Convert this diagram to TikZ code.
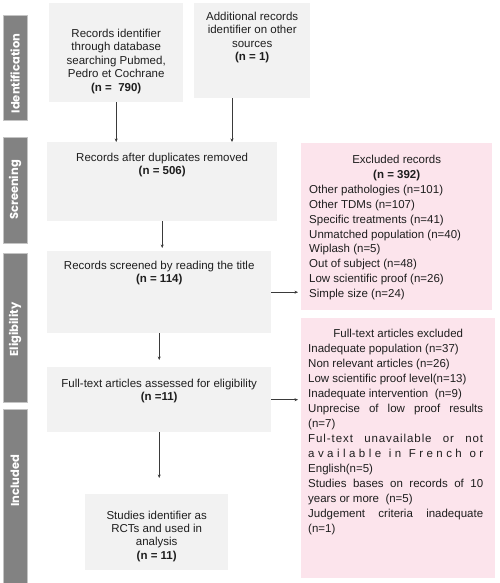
\documentclass[tikz,border=0pt]{standalone}
\usepackage{fontspec}
\setmainfont{Liberation Sans}
\newfontfamily\barfont{Poppins}
\usetikzlibrary{arrows.meta}
\definecolor{boxgray}{HTML}{F2F2F2}
\definecolor{boxpink}{HTML}{FCE4EC}
\definecolor{bargray}{HTML}{828282}
\definecolor{barline}{HTML}{C4C4C4}
\definecolor{ink}{HTML}{1E1E1E}
\definecolor{arrowc}{HTML}{3A3A3A}
\newcommand{\bx}[4]{\parbox[c][#2][t]{#1}{\vspace*{#3}\centering #4\par}}
\newcommand{\jl}[1]{\makebox[175pt][s]{#1}}
\tikzset{
  gbox/.style={fill=boxgray, inner sep=0pt, anchor=north west, text=ink, font=\fontsize{11.5}{13.4}\selectfont},
  pbox/.style={fill=boxpink, inner sep=0pt, anchor=north west, text=ink},
  sidebar/.style={fill=bargray, draw=barline, line width=0.5pt, rotate=90, inner sep=0pt,
    minimum height=24pt, text=white, font=\barfont\bfseries\fontsize{11.5}{12}\selectfont},
  arr/.style={draw=arrowc, line width=0.6pt, -{Stealth[length=3.5pt,width=3pt]}}
}
\begin{document}
\begin{tikzpicture}[x=1pt,y=-1pt]
\useasboundingbox (0,0) rectangle (500,583);
% side bars
\node[sidebar, minimum width=105pt] (sb1) at (15,67.5) {Identification\hspace*{12pt}};
\node[sidebar, minimum width=106pt] (sb2) at (15,190) {Screening};
\node[sidebar, minimum width=149pt] (sb3) at (15,327.5) {Eligibility\hspace*{4pt}};
\node[sidebar, minimum width=174pt] (sb4) at (15,496) {\hspace*{30pt}Included};
% grey boxes
\node[gbox] (b1) at (49,3) {\bx{134pt}{99pt}{26pt}{Records identifier\\through database\\searching Pubmed,\\Pedro et Cochrane\\\textbf{(n =\ \ 790)}}};
\node[gbox] (b2) at (194,3) {\bx{116pt}{95pt}{9pt}{Additional records\\identifier on other\\sources\\\textbf{(n = 1)}}};
\node[gbox] (dup) at (47,142) {\bx{230pt}{79pt}{10.5pt}{Records after duplicates removed\\\textbf{(n = 506)}}};
\node[gbox] (scr) at (47,251) {\bx{224pt}{82pt}{9.5pt}{Records screened by reading the title\\\textbf{(n = 114)}}};
\node[gbox] (ft) at (47,367) {\bx{224pt}{65pt}{11.5pt}{Full-text articles assessed for eligibility\\\textbf{(n =11)}}};
\node[gbox] (st) at (85,494) {\bx{143pt}{76pt}{16.5pt}{Studies identifier as\\RCTs and used in\\analysis\\\textbf{(n = 11)}}};
% pink boxes
\node[pbox] (ex1) at (301,143) {\parbox[c][167pt][t]{191pt}{\fontsize{11.5}{14.9}\selectfont\vspace*{12pt}%
{\centering Excluded records\\\textbf{(n = 392)}\par}%
\leftskip=8pt\rightskip=0pt plus 1fil\relax
Other pathologies (n=101)\\
Other TDMs (n=107)\\
Specific treatments (n=41)\\
Unmatched population (n=40)\\
Wiplash (n=5)\\
Out of subject (n=48)\\
Low scientific proof (n=26)\\
Simple size (n=24)\par}};
\node[pbox] (ex2) at (301,318) {\parbox[c][260pt][t]{194pt}{\fontsize{11.5}{15}\selectfont\vspace*{10.5pt}%
{\centering Full-text articles excluded\par}%
\leftskip=7pt\rightskip=0pt plus 1fil\relax
Inadequate population (n=37)\\
Non relevant articles (n=26)\\
Low scientific proof level(n=13)\\
Inadequate intervention\ \ (n=9)\\
\jl{Unprecise of low proof results}\\
(n=7)\\
\jl{\addfontfeature{LetterSpace=8}Ful-text unavailable or not}\\
\jl{\addfontfeature{LetterSpace=30}available in French or}\\
English(n=5)\\
\jl{Studies bases on records of 10}\\
years or more\ \ (n=5)\\
\jl{Judgement criteria inadequate}\\
(n=1)\par}};
% connectors
\coordinate (a2) at ([xshift=38pt]b2.south west);
\draw[arr] (b1.south) -- (b1.south |- dup.north);
\draw[arr] (a2) -- (a2 |- dup.north);
\draw[arr, shorten >=3pt] (dup.south) -- (dup.south |- scr.north);
\draw[arr, shorten >=7pt] (scr.south) -- (scr.south |- ft.north);
\draw[arr, shorten >=16pt] (ft.south) -- (ft.south |- st.north);
\draw[arr, shorten >=3pt] (scr.east) -- (scr.east -| ex1.west);
\draw[arr, shorten >=3pt] (ft.east) -- (ft.east -| ex2.west);
\end{tikzpicture}
\end{document}
